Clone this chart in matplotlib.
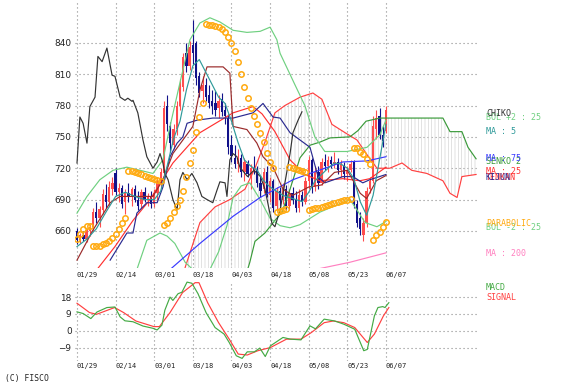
import matplotlib
matplotlib.use("Agg")
import matplotlib.pyplot as plt
import numpy as np
from matplotlib.patches import Polygon
from matplotlib.transforms import blended_transform_factory

# ---- data (bar index, price) ----
date_labels = ["01/29", "02/14", "03/01", "03/18", "04/03", "04/18", "05/08", "05/23", "06/07"]
date_pos = [0, 12, 24, 36, 48, 60, 72, 84, 96]

opens = [660, 651, 656, 652, 660, 664, 678, 672, 680, 694,
         688, 700, 715, 697, 701, 688, 696, 692, 700, 690,
         686, 697, 690, 693, 686, 696, 708, 715, 780, 760,
         742, 758, 780, 798, 830, 818, 838, 840, 808, 794,
         800, 790, 784, 782, 778, 786, 776, 768, 742, 730,
         724, 730, 716, 724, 712, 720, 718, 706, 700, 716,
         694, 708, 684, 698, 690, 700, 684, 696, 690, 682,
         694, 688, 708, 728, 702, 716, 706, 726, 722, 728,
         724, 726, 718, 722, 714, 718, 726, 686, 672, 656,
         668, 700, 708, 758, 770, 752, 756]
highs = [663, 658, 660, 663, 667, 682, 688, 684, 700, 705,
         708, 712, 720, 706, 704, 700, 706, 702, 704, 698,
         700, 702, 696, 698, 700, 712, 720, 784, 790, 764,
         762, 784, 805, 830, 840, 842, 862, 842, 812, 808,
         806, 800, 795, 794, 790, 792, 782, 772, 752, 742,
         738, 734, 730, 728, 724, 732, 722, 712, 720, 722,
         712, 710, 702, 702, 706, 704, 700, 702, 698, 700,
         698, 712, 732, 730, 722, 722, 730, 734, 732, 732,
         736, 730, 728, 726, 722, 728, 728, 690, 678, 672,
         702, 712, 770, 776, 778, 760, 780]
lows = [647, 648, 650, 649, 655, 660, 668, 664, 676, 682,
        684, 694, 694, 688, 682, 676, 688, 684, 688, 680,
        682, 688, 684, 682, 683, 690, 702, 712, 756, 736,
        738, 752, 776, 794, 812, 814, 820, 800, 788, 782,
        784, 778, 772, 770, 768, 770, 762, 734, 726, 720,
        716, 712, 708, 712, 700, 714, 702, 692, 696, 692,
        688, 678, 680, 684, 686, 680, 680, 686, 678, 678,
        684, 686, 700, 696, 698, 700, 704, 718, 716, 720,
        720, 714, 712, 710, 708, 716, 682, 664, 656, 650,
        664, 696, 706, 748, 748, 740, 754]
closes = [651, 656, 652, 661, 664, 678, 672, 681, 695, 688,
          702, 706, 697, 701, 686, 696, 692, 700, 690, 684,
          697, 690, 693, 686, 696, 708, 716, 778, 762, 744,
          758, 780, 800, 826, 818, 836, 830, 806, 792, 800,
          788, 782, 780, 776, 784, 774, 770, 740, 732, 724,
          730, 716, 726, 714, 720, 718, 706, 698, 716, 694,
          708, 682, 698, 690, 700, 684, 696, 690, 682, 694,
          688, 708, 728, 702, 716, 706, 726, 722, 728, 724,
          726, 718, 724, 714, 718, 724, 686, 668, 662, 668,
          698, 708, 760, 768, 752, 746, 776]

sar = [652, 657, 662, 665, 665,
       646, 646, 646, 647, 648, 650, 653, 657, 662, 668, 672,
       717, 717, 716, 715, 714, 713, 712, 711, 710, 709, 708,
       666, 668, 672, 678, 684, 690, 698, 712, 725, 737, 755, 769, 782,
       858, 857, 857, 856, 855, 853, 850, 846, 840, 832, 822, 810, 798, 787, 778, 770, 762, 754, 745, 735, 726, 720,
       678, 679, 680, 681,
       721, 720, 719, 718, 717, 716,
       680, 681, 682, 682, 683, 684, 685, 686, 687, 688, 689, 690, 690, 691,
       739, 739, 736, 734, 729, 724,
       651, 656, 659, 664, 669]

chiko_x = [0, 0.9, 1.9, 3.1, 4, 5.6, 6.5, 7.8, 9.3, 10.9, 11.8, 13.4, 14.9, 15.8, 17.1, 17.4, 18.9, 20.5,
           21.7, 23.6, 24.9, 25.8, 26.7, 27.3, 28.3, 29.8, 31.1, 32, 32.9, 34.2, 35.7, 37.3, 38.8, 40.4,
           42.2, 43.5, 44.4, 46, 46.6, 47.5, 48.5, 49.7, 50.6, 53, 55, 57, 58.4, 60.6, 61.5, 63.1, 64.6,
           66.2, 67.1, 68.7, 69.9]
chiko_y = [725, 769, 763, 744, 779, 788, 827, 822, 835, 809, 808, 788, 785, 787, 784, 785, 773, 747,
           731, 720, 726, 734, 725, 715, 709, 690, 680, 709, 716, 709, 715, 706, 693, 690,
           687, 699, 707, 706, 693, 728, 734, 731, 721, 712, 718, 712, 700, 667, 664, 680, 706,
           734, 754, 766, 774]

ma5_x = [0, 3, 6, 9, 12, 15, 18, 21, 24, 26, 28, 30, 32, 34, 36, 38, 40, 42, 44, 46, 48, 50, 52, 54, 56,
         58, 60, 62, 64, 66, 68, 70, 72, 74, 76, 78, 80, 82, 84, 86, 88, 90, 92, 94, 96]
ma5_y = [645, 652, 662, 678, 693, 697, 693, 690, 690, 698, 722, 748, 765, 795, 818, 824, 812, 800, 788, 782,
         765, 745, 728, 722, 718, 708, 702, 698, 694, 692, 690, 688, 697, 708, 714, 720, 725, 724, 720, 710,
         688, 675, 694, 728, 762]

ma25_x = [6.2, 11.8, 17.4, 22.7, 29.8, 38.2, 48.5, 54.7, 57.5, 61.5, 66.2, 70.8, 75.5, 82.6, 87.9, 91, 96]
ma25_y = [623, 645, 670, 690, 725, 754, 773, 779, 772, 755, 728, 714, 708, 710, 708, 710, 721]

ma75_x = [28.9, 38.2, 48.5, 56.9, 67.1, 72.4, 82.6, 90.1, 96]
ma75_y = [623, 648, 674, 692, 709, 715, 726, 727, 731]

ma200_x = [75.5, 84.8, 96]
ma200_y = [624, 630, 639]

bolu_x = [0, 3.1, 7.1, 11.2, 15.5, 19.6, 23.6, 26.7, 28.9, 32, 35.1, 38.2, 41.3, 44.4, 48.5, 52.8, 56.9,
          60, 62.1, 63.1, 67.7, 70.8, 73.9, 77, 83.9, 90.1, 94.1, 96]
bolu_y = [677, 693, 709, 718, 721, 718, 715, 728, 760, 802, 843, 859, 864, 860, 852, 850, 851,
          855, 843, 830, 800, 780, 750, 736, 736, 740, 752, 766]

boll_x = [18.6, 21.7, 25.8, 28, 30.4, 33.6, 36, 40, 44, 46.6, 48.5, 51, 53.7, 56.9, 60, 63.1, 66.2,
          69.3, 72.4, 75.5, 80.1, 84.8, 87, 89.5, 93.2, 96]
boll_y = [623, 651, 658, 655, 648, 630, 623, 615, 640, 665, 692, 703, 706, 690, 672, 665, 663,
          666, 672, 678, 684, 690, 680, 668, 664, 669]

tenkan_x = [0, 5, 10.3, 13.4, 23.6, 26.7, 29.8, 32.9, 36, 38.2, 40.4, 45.4, 47.5, 48.5, 52.8, 55.9, 57.8,
            60.9, 64, 67, 72, 76, 80, 84, 86, 88, 90, 93, 96]
tenkan_y = [632, 661, 687, 693, 693, 709, 734, 747, 760, 795, 817, 817, 811, 760, 757, 744, 731,
            721, 700, 694, 702, 704, 716, 718, 707, 696, 691, 708, 713]

kijun_x = [10.3, 15.5, 17.4, 18.6, 21.7, 24.9, 26.7, 28.9, 31.1, 32.9, 34.2, 37.3, 42.2, 48.5, 54.7, 57.8,
           60.9, 63.1, 66.2, 69.3, 72.4, 74.9, 77, 82.6, 85.7, 88.8, 91, 96]
kijun_y = [632, 658, 658, 677, 687, 687, 702, 731, 744, 750, 763, 766, 768, 768, 773, 782,
           769, 768, 754, 747, 740, 712, 706, 712, 712, 706, 709, 714]

senko1_x = [33.6, 38.2, 42.9, 47.5, 52.2, 55.3, 58.4, 61.5, 64.6, 69.3, 73.3, 76.1, 79.2, 83.3, 87, 90.1,
            93.2, 97.2, 101, 104, 108.7, 113.7, 115.9, 118.1, 119.6, 124]
senko1_y = [625, 668, 683, 690, 700, 720, 745, 773, 780, 788, 792, 786, 762, 754, 747, 733,
            720, 720, 725, 718, 715, 708, 696, 692, 712, 714]

senko2_x = [33.6, 52.2, 53.7, 55.3, 58.4, 61.5, 63.7, 66.2, 69.3, 72.4, 75.5, 78.6, 84.8, 87.3, 89.8,
            94.1, 98.2, 113.7, 115.9, 119.6, 121.5, 124]
senko2_y = [615, 615, 630, 650, 658, 670, 678, 700, 730, 742, 745, 749, 750, 756, 765,
            768, 768, 768, 755, 755, 740, 729]

macd_x = [0, 1.9, 4.3, 6.2, 9.3, 11.8, 13.4, 14.9, 17.4, 20.5, 23.6, 24.9, 26.4, 27.3, 28.9, 29.8, 31.4,
          32.6, 34.2, 35.7, 37.6, 40.1, 42.9, 45.7, 47.3, 49.5, 51.3, 52.9, 55.1, 56.8, 58.5, 60.1, 64,
          66.3, 69.6, 72.4, 74.1, 76.8, 80.1, 82.9, 86.3, 89.1, 90.2, 92.4, 93.5, 95, 95.7, 96.9]
macd_y = [10.1, 9.2, 6.5, 10, 12.4, 12.7, 7.4, 5.3, 4.8, 2.5, 1.3, 0.4, 3, 11, 18, 16.2, 19.8,
          20.6, 26, 25.4, 19.8, 9.7, 1.7, -1.8, -6.3, -13.4, -14.8, -11.3, -11.3, -9.3, -13.8, -8.1, -3.6,
          -4.5, -4.9, 2.6, 1, 6.2, 5.2, 3.5, 0.8, -10.7, -10, 7.9, 12.4, 12.9, 12.4, 15]

signal_x = [0, 3.9, 6.1, 11.7, 14.5, 18.3, 23.9, 25.6, 28.9, 32.8, 36.7, 37.9, 40.6, 44, 47.3, 50.1,
            52.9, 56.2, 60.1, 65.1, 69.6, 72.8, 76.8, 79.6, 82.9, 86.3, 90.2, 92.4, 95.2, 96.9]
signal_y = [14.7, 9.7, 8.8, 12.4, 9.7, 5.2, 2.2, 2.2, 9.7, 20.4, 25.7, 25.7, 15, 4.3, -4.5, -12.5,
            -13, -10.7, -9, -4.5, -4.5, -1, 4.3, 5.2, 4.3, 1.7, -6.3, -1.8, 7.9, 12.4]

price_ticks = [660, 690, 720, 750, 780, 810, 840]
macd_ticks = [-9, 0, 9, 18]

# ---- figure ----
W, H = 561, 391
plt.rcParams["hatch.linewidth"] = 0.45
fig = plt.figure(figsize=(W / 100, H / 100), dpi=100)
mono = "DejaVu Sans Mono"
grid_kw = dict(color="#8a8a8a", lw=0.8, ls=(0, (1, 2.6)), zorder=0)

ax = fig.add_axes([75 / W, (H - 268) / H, 403 / W, 268 / H])
ax2 = fig.add_axes([75 / W, (H - 361) / H, 403 / W, 80 / H])

for a in (ax, ax2):
    for s in a.spines.values():
        s.set_visible(False)
    a.set_xticks([])
    a.tick_params(axis="y", length=0, pad=2.5, labelsize=6.4, labelcolor="#222222")
    a.set_xlim(-0.62, 124.6)

ax.set_ylim(624.5, 881)
ax2.set_ylim(-16.2, 26.6)
ax.set_yticks(price_ticks)
ax2.set_yticks(macd_ticks)

for v in price_ticks:
    ax.axhline(v, **grid_kw)
for v in macd_ticks:
    ax2.axhline(v, **grid_kw)
for p in date_pos:
    ax.axvline(p, **grid_kw)
    ax2.axvline(p, **grid_kw)

# cloud between senko 1 and senko 2
cloud = Polygon(list(zip(senko1_x, senko1_y)) + list(zip(senko2_x, senko2_y))[::-1],
                closed=True, facecolor="none", edgecolor="#d2d2d2", lw=0, hatch="|||||", zorder=1)
ax.add_patch(cloud)

# candles
idx = np.arange(len(closes))
o = np.array(opens)
c = np.array(closes)
up = c >= o
col = np.where(up, "#ff4d4d", "#12128a")
ax.vlines(idx, lows, highs, colors=col, lw=0.8, zorder=2)
ax.bar(idx, np.maximum(np.abs(c - o), 1.5), bottom=np.minimum(o, c), width=0.72,
       color=col, lw=0, zorder=3)

lw = 0.85
ax.plot(senko1_x, senko1_y, color="#ff4040", lw=lw, zorder=4)
ax.plot(senko2_x, senko2_y, color="#3a9a3a", lw=lw, zorder=4)
ax.plot(bolu_x, bolu_y, color="#6fd080", lw=lw, zorder=4)
ax.plot(boll_x, boll_y, color="#6fd080", lw=lw, zorder=4)
ax.plot(ma200_x, ma200_y, color="#ff80c0", lw=lw, zorder=4)
ax.plot(ma75_x, ma75_y, color="#3a3aff", lw=lw, zorder=4)
ax.plot(ma25_x, ma25_y, color="#ff3030", lw=lw, zorder=4)
ax.plot(kijun_x, kijun_y, color="#2a2a90", lw=lw, zorder=4)
ax.plot(tenkan_x, tenkan_y, color="#9a2a2a", lw=lw, zorder=4)
ax.plot(chiko_x, chiko_y, color="#333333", lw=lw, zorder=4)
ax.plot(ma5_x, ma5_y, color="#2f9a9a", lw=lw, zorder=5)
ax.plot(idx, sar, "o", mfc="none", mec="#ffaa10", ms=3.9, mew=1.1, zorder=6)

ax2.plot(signal_x, signal_y, color="#ff4040", lw=lw)
ax2.plot(macd_x, macd_y, color="#44aa44", lw=lw)

# date labels
tr_top = blended_transform_factory(ax.transData, ax.transAxes)
tr_bot = blended_transform_factory(ax2.transData, ax2.transAxes)
for p, lab in zip(date_pos, date_labels):
    ax.text(p, -7 / 268, lab, transform=tr_top, ha="left", va="center",
            family=mono, fontsize=5, color="#222222")
    ax2.text(p, -5 / 80, lab, transform=tr_bot, ha="left", va="center",
             family=mono, fontsize=5, color="#222222")

# legend texts (they overlap in the original too)
legend = [
    ("BOL +2 : 25", "#6fd080", 117),
    ("CHIKO", "#333333", 114),
    ("MA : 5", "#2f9a9a", 131),
    ("SENKO 2", "#3a9a3a", 162),
    ("MA : 75", "#3a3aff", 158),
    ("MA : 25", "#ff3030", 171),
    ("TENKAN", "#ff3030", 177),
    ("KIJUN", "#2a2a90", 177),
    ("BOL -2 : 25", "#6fd080", 227),
    ("PARABOLIC", "#ffaa10", 224),
    ("MA : 200", "#ff80c0", 254),
    ("MACD", "#44aa44", 287),
    ("SIGNAL", "#ff4040", 297),
]
for txt, colr, ypx in legend:
    fig.text(486 / W, 1 - ypx / H, txt, color=colr, family=mono, fontsize=6, va="center", ha="left")

fig.text(5 / W, 1 - 378 / H, "(C) FISCO", color="#222222", family=mono, fontsize=5.8,
         va="center", ha="left")

fig.savefig("out.png", dpi=100)
